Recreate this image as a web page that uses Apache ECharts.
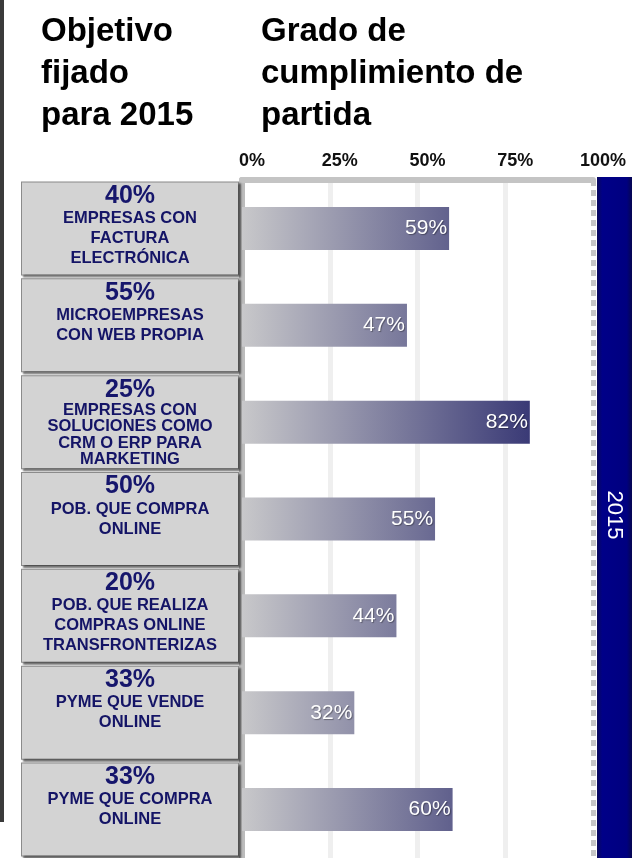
<!DOCTYPE html>
<html>
<head>
<meta charset="utf-8">
<script src="https://cdn.jsdelivr.net/npm/echarts@6/dist/echarts.min.js"></script>
<style>
  html, body { margin: 0; padding: 0; background: #fff; }
  #main { width: 641px; height: 858px; }
</style>
</head>
<body>
<div id="main"></div>
<script>
// objetivos fijados para 2015 (texto de cada caja)
let targets = ['40%', '55%', '25%', '50%', '20%', '33%', '33%']
let categories = [
  ['EMPRESAS CON', 'FACTURA', 'ELECTRÓNICA'],
  ['MICROEMPRESAS', 'CON WEB PROPIA'],
  ['EMPRESAS CON', 'SOLUCIONES COMO', 'CRM O ERP PARA', 'MARKETING'],
  ['POB. QUE COMPRA', 'ONLINE'],
  ['POB. QUE REALIZA', 'COMPRAS ONLINE', 'TRANSFRONTERIZAS'],
  ['PYME QUE VENDE', 'ONLINE'],
  ['PYME QUE COMPRA', 'ONLINE'],
]
// grado de cumplimiento de partida
let values = [59, 47, 82, 55, 44, 32, 60]
let ticks = [0, 25, 50, 75, 100]

var myChart = echarts.init(document.getElementById('main'))

var option = {
  animation: false,
  title: [
    {
      text: 'Objetivo\nfijado\npara 2015',
      left: 36,
      top: 6,
      textStyle: { fontFamily: 'Liberation Sans, Arial', fontSize: 33, fontWeight: 'bold', lineHeight: 42, color: '#000' },
    },
    {
      text: 'Grado de\ncumplimiento de\npartida',
      left: 256,
      top: 6,
      textStyle: { fontFamily: 'Liberation Sans, Arial', fontSize: 33, fontWeight: 'bold', lineHeight: 42, color: '#000' },
    },
  ],
  grid: { left: 242, right: 48, top: 180, height: 687 },
  xAxis: {
    type: 'value',
    position: 'top',
    min: 0,
    max: 100,
    interval: 25,
    axisLine: { show: true, lineStyle: { color: '#c4c4c4', width: 6 } },
    axisTick: { show: false },
    axisLabel: {
      formatter: (v) => (ticks.includes(v) ? v + '%' : ''),
      fontFamily: 'Liberation Sans Narrow, Arial Narrow, Liberation Sans',
      fontWeight: 'bold',
      fontSize: 18,
      color: '#111',
      margin: 10,
      padding: [0, 0, 0, 20],
    },
    splitLine: {
      show: true,
      lineStyle: { color: ['transparent', '#efefef', '#efefef', '#efefef', 'transparent'], width: 5 },
    },
  },
  yAxis: {
    type: 'category',
    inverse: true,
    data: categories.map((c) => c.join(' ')),
    axisLine: { show: true, lineStyle: { color: '#bcbcbc', width: 6 } },
    axisTick: { show: false },
    axisLabel: {
      interval: 0,
      margin: 4,
      width: 200,
      height: 91,
      padding: [1, 8, 0, 8],
      backgroundColor: '#d3d3d3',
      borderColor: '#8c8c8c',
      borderWidth: 1,
      shadowColor: 'rgba(0,0,0,0.45)',
      shadowOffsetX: 2,
      shadowOffsetY: 2,
      shadowBlur: 2,
      formatter: (value, i) => {
        // las cajas con cuatro líneas van más apretadas
        let st = categories[i].length > 3 ? 'e' : 'd'
        return '{p|' + targets[i] + '}\n' + categories[i].map((s) => '{' + st + '|' + s + '}').join('\n')
      },
      rich: {
        p: { fontFamily: 'Liberation Sans, Arial', fontSize: 25, fontWeight: 'bold', color: '#16166c', lineHeight: 25, align: 'center' },
        d: { fontFamily: 'Liberation Sans, Arial', fontSize: 16.5, fontWeight: 'bold', color: '#141466', lineHeight: 20, align: 'center' },
        e: { fontFamily: 'Liberation Sans, Arial', fontSize: 16.5, fontWeight: 'bold', color: '#141466', lineHeight: 16.5, align: 'center' },
      },
    },
  },
  series: [
    {
      type: 'bar',
      data: values,
      barWidth: 43,
      itemStyle: {
        color: {
          type: 'linear',
          global: true,
          x: 242, y: 0, x2: 530, y2: 0,
          colorStops: [
            { offset: 0, color: '#c8c8ca' },
            { offset: 1, color: '#3a3a76' },
          ],
        },
      },
      label: {
        show: true,
        position: 'insideRight',
        distance: 2,
        formatter: '{c}%',
        fontFamily: 'Liberation Sans, Arial',
        fontSize: 21,
        color: '#fff',
        textShadowColor: 'rgba(0,0,0,0.35)',
        textShadowBlur: 1,
        textShadowOffsetX: 1,
        textShadowOffsetY: 1,
      },
      markLine: {
        silent: true,
        symbol: 'none',
        label: { show: false },
        lineStyle: { color: '#c6c6c6', width: 5, type: [6, 4] },
        data: [{ xAxis: 100 }],
      },
    },
  ],
}

myChart.setOption(option)

// barra del objetivo 2015 a la derecha del 100%
let x100 = myChart.convertToPixel({ xAxisIndex: 0 }, 100)
myChart.setOption({
  graphic: [
    {
      type: 'rect',
      shape: { x: 0, y: 0, width: 4, height: 822 },
      style: { fill: '#3a3a3a' },
    },
    {
      type: 'rect',
      shape: { x: x100 + 4, y: 177, width: 35, height: 690 },
      style: {
        fill: {
          type: 'linear', x: 0, y: 0, x2: 1, y2: 0,
          colorStops: [
            { offset: 0, color: '#0a0a5a' },
            { offset: 0.15, color: '#000088' },
            { offset: 0.85, color: '#000080' },
            { offset: 1, color: '#060650' },
          ],
        },
      },
    },
    {
      type: 'text',
      x: x100 + 21,
      y: 515,
      rotation: -Math.PI / 2,
      style: {
        text: '2015',
        fill: '#fff',
        font: '22px "Liberation Sans", Arial',
        textAlign: 'center',
        textVerticalAlign: 'middle',
      },
    },
  ],
})
</script>
</body>
</html>
